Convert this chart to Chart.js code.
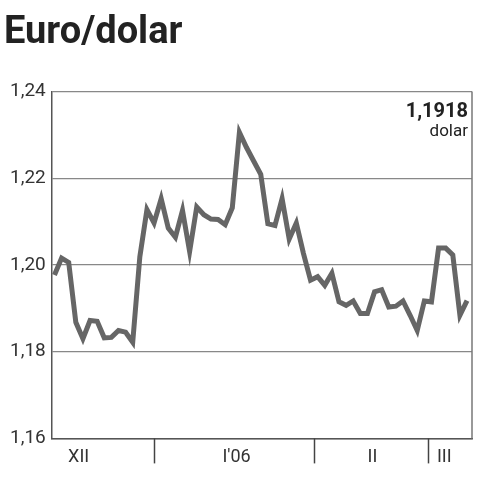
<!DOCTYPE html>
<html>
<head>
<meta charset="utf-8">
<script src="https://cdn.jsdelivr.net/npm/chart.js@4/dist/chart.umd.min.js"></script>
<style>
html,body{margin:0;padding:0;background:#fff;}
#wrap{width:480px;height:480px;}
</style>
</head>
<body>
<div id="wrap"><canvas id="c" width="480" height="480"></canvas></div>
<script>
const titleText = 'Euro/dolar';
const rates = [
  1.1977, 1.2016, 1.2006, 1.1868, 1.1830, 1.1872, 1.1870, 1.1832, 1.1833, 1.1849,
  1.1845, 1.1822, 1.2019, 1.2128, 1.2097, 1.2153, 1.2085, 1.2064, 1.2126, 1.2031,
  1.2134, 1.2116, 1.2106, 1.2105, 1.2093, 1.2132, 1.2306, 1.2271, 1.2240, 1.2209,
  1.2095, 1.2091, 1.2153, 1.2060, 1.2097, 1.2027, 1.1965, 1.1973, 1.1953, 1.1981,
  1.1915, 1.1907, 1.1917, 1.1888, 1.1888, 1.1938, 1.1943, 1.1903, 1.1905, 1.1917,
  1.1884, 1.1849, 1.1917, 1.1915, 1.2039, 1.2039, 1.2023, 1.1884, 1.1918
];
const months = ['XII', "I'06", 'II', 'III'];
const monthLabelPos = [3.4, 25.6, 44.7, 54.8];
const monthBounds = [14, 36.5, 52.5];
const yTicks = [1.16, 1.18, 1.20, 1.22, 1.24];
const unitLabel = 'dolar';

const points = rates.map((v, i) => ({x: i, y: v}));
const fmt = v => v.toFixed(2).replace('.', ',');

const decor = {
  id: 'decor',
  afterDraw(chart) {
    const ctx = chart.ctx;
    const a = chart.chartArea;
    const xs = chart.scales.x;
    ctx.save();
    ctx.strokeStyle = '#444';
    ctx.lineWidth = 1.5;
    monthBounds.forEach(b => {
      const px = Math.round(xs.getPixelForValue(b)) + 0.5;
      ctx.beginPath();
      ctx.moveTo(px, a.bottom);
      ctx.lineTo(px, a.bottom + 25);
      ctx.stroke();
    });
    ctx.strokeStyle = '#777';
    ctx.lineWidth = 1.5;
    ctx.beginPath();
    ctx.moveTo(a.right, a.top);
    ctx.lineTo(a.right, a.bottom);
    ctx.stroke();
    const last = rates[rates.length - 1];
    ctx.fillStyle = '#222';
    ctx.textAlign = 'right';
    ctx.textBaseline = 'middle';
    ctx.font = 'bold 20px Roboto, "DejaVu Sans", sans-serif';
    ctx.fillText(last.toFixed(4).replace('.', ','), a.right - 4, a.top + 20);
    ctx.font = '17px Roboto, "DejaVu Sans", sans-serif';
    ctx.fillText(unitLabel, a.right - 4, a.top + 40);
    ctx.restore();
  }
};

new Chart(document.getElementById('c'), {
  type: 'line',
  data: {
    datasets: [{
      data: points,
      borderColor: '#666',
      borderWidth: 5,
      pointRadius: 0,
      tension: 0,
      fill: false
    }]
  },
  options: {
    responsive: false,
    animation: false,
    layout: {padding: {left: 4, right: 8, top: 0, bottom: 4}},
    plugins: {
      legend: {display: false},
      tooltip: {enabled: false},
      title: {
        display: true,
        text: titleText,
        align: 'start',
        color: '#222',
        font: {family: 'Roboto', weight: 'bold', size: 38},
        padding: {top: 11, bottom: 35}
      }
    },
    scales: {
      x: {
        type: 'linear',
        min: -0.38,
        max: 58.7,
        afterBuildTicks: axis => { axis.ticks = monthLabelPos.map(v => ({value: v})); },
        ticks: {
          autoSkip: false,
          maxRotation: 0,
          padding: 8,
          color: '#333',
          font: {family: 'Roboto', size: 18},
          callback: (v, i) => months[i]
        },
        grid: {display: false, drawTicks: false},
        border: {display: true, color: '#555', width: 1.5}
      },
      y: {
        min: 1.16,
        max: 1.24,
        afterBuildTicks: axis => { axis.ticks = yTicks.map(v => ({value: v})); },
        ticks: {
          padding: 6,
          color: '#333',
          font: {family: 'Roboto', size: 19},
          callback: v => fmt(v)
        },
        grid: {color: '#888', lineWidth: 1.2, drawTicks: false},
        border: {display: true, color: '#555', width: 1.5}
      }
    }
  },
  plugins: [decor]
});
</script>
</body>
</html>
